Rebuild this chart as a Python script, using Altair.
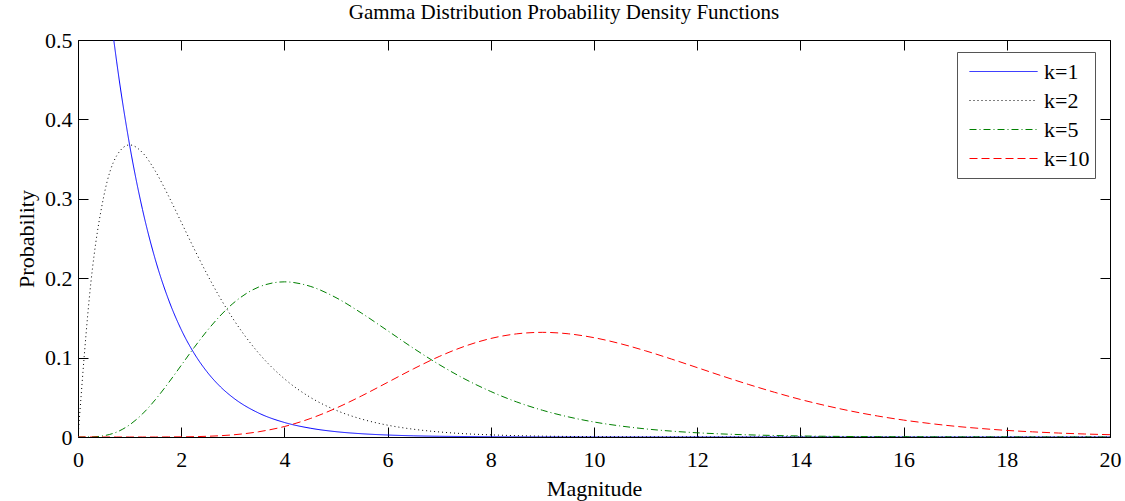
import altair as alt
import pandas as pd

x_vals = [0, 0.25, 0.5, 0.75, 1, 1.25, 1.5, 1.75, 2, 2.25, 2.5, 2.75, 3,
          3.5, 4, 4.5, 5, 5.5, 6, 6.5, 7, 7.5, 8, 8.5, 9, 9.5,
          10, 10.5, 11, 11.5, 12, 12.5, 13, 13.5, 14, 14.5, 15, 15.5,
          16, 16.5, 17, 17.5, 18, 18.5, 19, 19.5, 20]

k1 = [1.0, 0.7788, 0.6065, 0.4724, 0.3679, 0.2865, 0.2231, 0.1738, 0.1353, 0.1054, 0.0821, 0.0639, 0.0498,
      0.0302, 0.0183, 0.0111, 0.0067, 0.0041, 0.0025, 0.0015, 0.0009, 0.0006, 0.0003, 0.0002, 0.0001, 0.0001,
      0, 0, 0, 0, 0, 0, 0, 0, 0, 0, 0, 0, 0, 0, 0, 0, 0, 0, 0, 0, 0]
k2 = [0, 0.1947, 0.3033, 0.3543, 0.3679, 0.3581, 0.3347, 0.3041, 0.2707, 0.2371, 0.2052, 0.1757, 0.1494,
      0.1057, 0.0733, 0.0500, 0.0337, 0.0225, 0.0149, 0.0098, 0.0064, 0.0041, 0.0027, 0.0017, 0.0011, 0.0007,
      0.0005, 0.0003, 0.0002, 0.0001, 0.0001, 0, 0, 0, 0, 0, 0, 0, 0, 0, 0, 0, 0, 0, 0, 0, 0]
k5 = [0, 0.0001, 0.0016, 0.0062, 0.0153, 0.0291, 0.0471, 0.0679, 0.0902, 0.1126, 0.1336, 0.1523, 0.1680,
      0.1888, 0.1954, 0.1898, 0.1755, 0.1558, 0.1339, 0.1118, 0.0912, 0.0729, 0.0573, 0.0442, 0.0337, 0.0254,
      0.0189, 0.0140, 0.0102, 0.0074, 0.0053, 0.0038, 0.0027, 0.0019, 0.0013, 0.0009, 0.0006, 0.0004,
      0.0003, 0.0002, 0.0001, 0.0001, 0.0001, 0, 0, 0, 0]
k10 = [0, 0, 0, 0, 0, 0, 0, 0.0001, 0.0002, 0.0004, 0.0009, 0.0016, 0.0027,
       0.0066, 0.0132, 0.0232, 0.0363, 0.0519, 0.0688, 0.0858, 0.1014, 0.1144, 0.1241, 0.1299, 0.1318, 0.1300,
       0.1251, 0.1177, 0.1085, 0.0982, 0.0874, 0.0765, 0.0661, 0.0563, 0.0473, 0.0394, 0.0324, 0.0264,
       0.0213, 0.0171, 0.0135, 0.0107, 0.0083, 0.0065, 0.0050, 0.0038, 0.0029]

series_names = ["k=1", "k=2", "k=5", "k=10"]
series_colors = ["#0000ff", "#000000", "#008000", "#ff0000"]
series_dashes = [[1, 0], [1, 3], [7, 3, 1, 3], [8, 4]]
x_ticks = [0, 2, 4, 6, 8, 10, 12, 14, 16, 18, 20]
y_ticks = [0, 0.1, 0.2, 0.3, 0.4, 0.5]

rows = []
for name, vals in zip(series_names, [k1, k2, k5, k10]):
    for xv, yv in zip(x_vals, vals):
        rows.append({"x": xv, "y": yv, "k": name})
df = pd.DataFrame(rows)

FONT = "Liberation Serif"
W, H = 1032, 397

xscale = alt.Scale(domain=[0, 20], nice=False, zero=False)
yscale = alt.Scale(domain=[0, 0.5], nice=False)

text_style = dict(labelFont=FONT, labelFontSize=22, labelColor="black", labelFlush=False,
                  titleFont=FONT, titleFontSize=22, titleFontWeight="normal", titleColor="black")

base = alt.Chart(df)

lines = base.mark_line(strokeWidth=1, clip=True, interpolate="monotone").encode(
    x=alt.X("x:Q", scale=xscale,
            axis=alt.Axis(values=x_ticks, title="Magnitude", ticks=False, domain=False,
                          grid=False, labelPadding=12, titlePadding=8, format="d", **text_style)),
    y=alt.Y("y:Q", scale=yscale,
            axis=alt.Axis(values=y_ticks, title="Probability", ticks=False, domain=False,
                          grid=False, labelPadding=6, titlePadding=6, format="~g", **text_style)),
    color=alt.Color("k:N", scale=alt.Scale(domain=series_names, range=series_colors),
                    legend=alt.Legend(title=None, orient="none", legendX=879, legendY=12,
                                      symbolType="stroke", symbolSize=4624, symbolStrokeWidth=1,
                                      symbolOffset=7, clipHeight=29, rowPadding=0,
                                      labelFont=FONT, labelFontSize=22, labelOffset=6,
                                      padding=5, strokeColor="#555555",
                                      fillColor="white", labelColor="black")),
    strokeDash=alt.StrokeDash("k:N", scale=alt.Scale(domain=series_names, range=series_dashes),
                              legend=None),
    detail="k:N",
)

tick_axis_x_bottom = alt.Axis(orient="top", offset=-H, values=x_ticks, labels=False, domain=False,
                              grid=False, title=None, ticks=True, tickSize=10, tickColor="black")
tick_axis_y_left = alt.Axis(orient="right", offset=-W, values=y_ticks, labels=False, domain=False,
                            grid=False, title=None, ticks=True, tickSize=10, tickColor="black")
ticks1 = base.mark_point(opacity=0, clip=True).encode(
    x=alt.X("x:Q", scale=xscale, axis=tick_axis_x_bottom),
    y=alt.Y("y:Q", scale=yscale, axis=tick_axis_y_left),
)

tick_axis_x_top = alt.Axis(orient="bottom", offset=-H, values=x_ticks, labels=False, domain=False,
                           grid=False, title=None, ticks=True, tickSize=10, tickColor="black")
tick_axis_y_right = alt.Axis(orient="left", offset=-W, values=y_ticks, labels=False, domain=False,
                             grid=False, title=None, ticks=True, tickSize=10, tickColor="black")
ticks2 = base.mark_point(opacity=0, clip=True).encode(
    x=alt.X("x:Q", scale=xscale, axis=tick_axis_x_top),
    y=alt.Y("y:Q", scale=yscale, axis=tick_axis_y_right),
)

chart = alt.layer(lines, ticks1, ticks2).resolve_axis(
    x="independent", y="independent"
).properties(
    width=W, height=H,
    title=alt.Title("Gamma Distribution Probability Density Functions", font=FONT, fontSize=21,
                    fontWeight="normal", anchor="middle", dx=-30, offset=6, color="black"),
    autosize=alt.AutoSizeParams(type="none"),
    padding={"left": 78, "top": 40, "right": 15, "bottom": 64},
).configure_view(
    stroke="black", strokeWidth=1
)

chart.save("out.html", embed_options={"renderer": "svg", "actions": False})
